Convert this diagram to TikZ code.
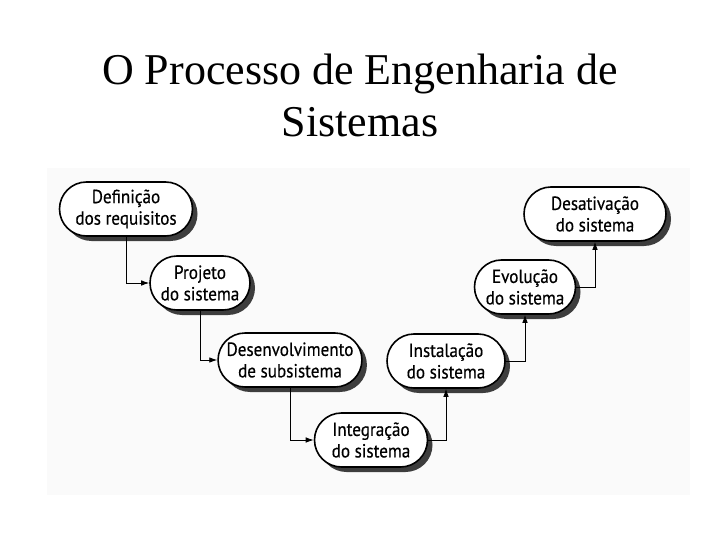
\documentclass[tikz,border=0pt]{standalone}
\usepackage{fontspec}
\setmainfont{Liberation Serif}
\newfontfamily\boxfont[FakeStretch=0.9,FakeBold=0.4]{PT Sans}
\usetikzlibrary{shapes.misc,shadows,arrows.meta}
\begin{document}
\begin{tikzpicture}[x=1pt,y=-1pt,
  stage/.style={rounded rectangle, draw=black, line width=1.6pt, fill=white,
    align=center, font=\boxfont\fontsize{19}{21.5}\selectfont,
    inner xsep=2pt, inner ysep=2pt, minimum height=54pt,
    drop shadow={shadow xshift=5pt, shadow yshift=-5pt, fill=black!80, opacity=0.95}},
  arr/.style={line width=0.8pt, -{Latex[length=8pt,width=5.5pt]}},
  titletext/.style={font=\fontsize{44}{53}\selectfont, anchor=base, inner sep=0pt}]
\useasboundingbox (0,0) rectangle (720,540);
\fill[black!2] (47,168) rectangle (690,495);
\node[titletext] (title1) at (360,85) {O Processo de Engenharia de};
\node[titletext] (title2) at (360,137) {Sistemas};

\node[stage, minimum width=137pt] (def)  at (126,209) {Definição\\dos requisitos};
\node[stage, minimum width=104pt] (proj) at (200,283) {Projeto\\do sistema};
\node[stage, minimum width=133pt] (dev)  at (290,360) {Desenvolvimento\\de subsistema};
\node[stage, minimum width=117pt] (int)  at (371,440) {Integração\\do sistema};
\node[stage, minimum width=122pt] (inst) at (446,361) {Instalação\\do sistema};
\node[stage, minimum width=105pt] (evo)  at (525,287) {Evolução\\do sistema};
\node[stage, minimum width=146pt] (des)  at (595,214) {Desativação\\do sistema};

\draw[arr] (def.south) |- (proj.west);
\draw[arr] (proj.south) |- (dev.west);
\draw[arr] (dev.south) |- (int.west);
\draw[arr] (int.east) -| (inst.south);
\draw[arr] (inst.east) -| (evo.south);
\draw[arr] (evo.east) -| (des.south);
\end{tikzpicture}
\end{document}
